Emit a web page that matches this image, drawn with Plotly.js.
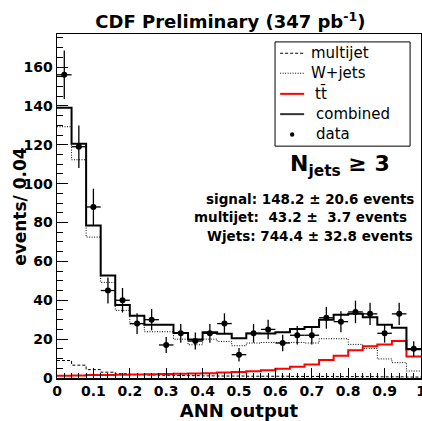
<!DOCTYPE html>
<html>
<head>
<meta charset="utf-8">
<script src="https://cdn.plot.ly/plotly-3.0.1.min.js"></script>
<style>
  html, body { margin: 0; padding: 0; background: #fff; }
  #chart { width: 422px; height: 421px; }
</style>
</head>
<body>
<div id="chart"></div>
<script>
/* ============================================
   ANN output -- CDF Preliminary, Njets >= 3
   stacked template fit vs data, step histograms
   ============================================ */

// ---- Data (25 bins of 0.04 in ANN output) ----
const binEdges = [0, 0.04, 0.08, 0.12, 0.16, 0.20, 0.24, 0.28, 0.32, 0.36, 0.40, 0.44, 0.48,
  0.52, 0.56, 0.60, 0.64, 0.68, 0.72, 0.76, 0.80, 0.84, 0.88, 0.92, 0.96, 1.00];
const binCenters = [0.02, 0.06, 0.10, 0.14, 0.18, 0.22, 0.26, 0.30, 0.34, 0.38, 0.42, 0.46, 0.50,
  0.54, 0.58, 0.62, 0.66, 0.70, 0.74, 0.78, 0.82, 0.86, 0.90, 0.94, 0.98];

const multijet = [9.0, 6.6, 4.3, 3.0, 2.2, 1.7, 1.5, 1.4, 1.3, 1.2, 1.1, 1.0, 1.0,
  0.9, 0.9, 0.9, 0.8, 0.8, 0.8, 0.7, 0.7, 0.7, 0.6, 0.6, 0.5];
const wjets = [129.3, 112.3, 72.5, 49.2, 34.8, 27.8, 23.8, 23.8, 20.0, 17.1, 20.0, 18.8, 16.6,
  18.0, 18.3, 18.3, 18.3, 18.0, 20.2, 20.2, 17.3, 15.2, 9.8, 7.9, 3.6];
const ttbar = [1.2, 1.3, 1.5, 1.6, 1.7, 1.8, 1.9, 2.0, 2.2, 2.3, 2.5, 2.8, 3.1,
  3.5, 4.0, 4.8, 5.8, 7.0, 9.2, 11.5, 14.3, 16.4, 17.3, 19.0, 11.1];
const combined = [139.0, 120.5, 78.5, 52.8, 37.5, 32.0, 27.4, 27.4, 23.1, 19.8, 23.5, 22.8, 20.4,
  22.9, 22.9, 23.5, 25.2, 26.2, 30.0, 32.6, 33.1, 31.2, 27.4, 25.8, 14.8];
const dataCounts = [156, 119, 88, 45, 40, 28, 30, 17, 23, 19, 23, 28, 12,
  23, 25, 18, 22, 22, 31, 29, 34, 33, 23, 33, 15];
const dataErrors = [12.5, 10.9, 9.4, 6.7, 6.3, 5.3, 5.5, 4.1, 4.8, 4.4, 4.8, 5.3, 3.5,
  4.8, 5.0, 4.2, 4.7, 4.7, 5.6, 5.4, 5.8, 5.7, 4.8, 5.7, 3.9];

const legendLabels = ['multijet', 'W+jets', 't\u0074\u0304', 'combined', 'data'];
const fitLines = [
  'signal: 148.2 \u00b1 20.6 events',
  'multijet:  43.2 \u00b1  3.7 events',
  'Wjets: 744.4 \u00b1 32.8 events',
];

// ---- Style ----
const FONT = 'DejaVu Sans, Liberation Sans, Arial, sans-serif';
const INK = '#000000';
const RED = '#ff0000';

const lineStyles = [
  { color: INK, width: 1, dash: '3px,2px' },   // multijet
  { color: INK, width: 1, dash: '1px,1.5px' }, // W+jets
  { color: RED, width: 2 },                    // ttbar
  { color: INK, width: 2 },                    // combined
];

// step histogram: last bin value repeated so 'hv' closes the final bin
const stepY = (vals) => vals.concat([vals[vals.length - 1]]);

const histos = [multijet, wjets, ttbar, combined];
const traces = histos.map((vals, i) => ({
  name: legendLabels[i], x: binEdges, y: stepY(vals), type: 'scatter', mode: 'lines',
  line: Object.assign({ shape: 'hv' }, lineStyles[i]),
}));
traces.push({
  name: legendLabels[4], x: binCenters, y: dataCounts, type: 'scatter', mode: 'markers',
  marker: { symbol: 'circle', size: 6, color: INK },
  error_y: { type: 'data', array: dataErrors, color: INK, thickness: 1.3, width: 0 },
  error_x: { type: 'constant', value: 0.02, color: INK, thickness: 1.3, width: 0 },
});

// ---- Legend box (ROOT TLegend look), drawn in paper coordinates ----
const legBox = { x0: 0.599, x1: 0.970, y0: 0.674, y1: 0.977 };
const legRows = [0.944, 0.886, 0.826, 0.767, 0.708];
const legTextX = [0.692, 0.692, 0.703, 0.706, 0.706];
const legSample = { x0: 0.613, x1: 0.679 };

const shapes = [{
  type: 'rect', xref: 'paper', yref: 'paper',
  x0: legBox.x0, x1: legBox.x1, y0: legBox.y0, y1: legBox.y1,
  line: { color: INK, width: 1 }, fillcolor: '#ffffff', layer: 'above',
}];
lineStyles.forEach((ls, i) => {
  shapes.push({
    type: 'line', xref: 'paper', yref: 'paper',
    x0: legSample.x0, x1: legSample.x1, y0: legRows[i], y1: legRows[i],
    line: Object.assign({}, ls, i === 3 ? { color: '#333333' } : {}), layer: 'above',
  });
});
const dotX = (legSample.x0 + legSample.x1) / 2;
shapes.push({
  type: 'circle', xref: 'paper', yref: 'paper',
  x0: dotX - 0.006, x1: dotX + 0.006, y0: legRows[4] - 0.0065, y1: legRows[4] + 0.0065,
  line: { color: INK, width: 0 }, fillcolor: INK, layer: 'above',
});

const annotations = legendLabels.map((lab, i) => ({
  text: lab, xref: 'paper', yref: 'paper', x: legTextX[i], y: legRows[i],
  xanchor: 'left', yanchor: 'middle', showarrow: false,
  font: { family: FONT, size: 15, color: INK },
}));

annotations.push(
  {
    // y-axis title, placed by hand to sit close to the tick labels
    text: 'events/ 0.04', textangle: -90, xref: 'paper', yref: 'paper', x: -0.102, y: 0.5,
    xanchor: 'center', yanchor: 'middle', showarrow: false,
    font: { family: FONT, size: 17, color: INK, weight: 'bold' },
  },
  {
    text: 'N<sub>jets</sub> \u2265 3', xref: 'paper', yref: 'paper', x: 0.777, y: 0.619,
    xanchor: 'center', yanchor: 'middle', showarrow: false,
    font: { family: FONT, size: 22, color: INK, weight: 'bold' },
  },
  {
    text: fitLines[0], xref: 'paper', yref: 'paper', x: 0.695, y: 0.520,
    xanchor: 'center', yanchor: 'middle', showarrow: false,
    font: { family: FONT, size: 13.5, color: INK, weight: 'bold' },
  },
  {
    text: fitLines[1], xref: 'paper', yref: 'paper', x: 0.668, y: 0.468,
    xanchor: 'center', yanchor: 'middle', showarrow: false,
    font: { family: FONT, size: 13.5, color: INK, weight: 'bold' },
  },
  {
    text: fitLines[2], xref: 'paper', yref: 'paper', x: 0.695, y: 0.413,
    xanchor: 'center', yanchor: 'middle', showarrow: false,
    font: { family: FONT, size: 13.5, color: INK, weight: 'bold' },
  }
);

const axisBase = {
  showline: true, linecolor: INK, linewidth: 1.5, mirror: true,
  showgrid: false, zeroline: false,
  ticks: 'inside', tickcolor: INK, tickwidth: 1,
  ticklabeloverflow: 'allow',
  tickfont: { family: FONT, size: 14, color: INK, weight: 'bold' },
};

const layout = {
  width: 422, height: 421,
  margin: { l: 57, r: 1, t: 34, b: 43 },
  paper_bgcolor: '#ffffff', plot_bgcolor: '#ffffff',
  font: { family: FONT, color: INK },
  title: {
    text: 'CDF Preliminary (347 pb<sup>-1</sup>)',
    font: { family: FONT, size: 18, color: INK, weight: 'bold' },
    xref: 'container', x: 0.546, xanchor: 'center',
    yref: 'container', y: 0.948, yanchor: 'middle',
  },
  xaxis: Object.assign({}, axisBase, {
    range: [0, 1], tick0: 0, dtick: 0.1, ticklen: 10,
    minor: { ticks: 'inside', dtick: 0.02, ticklen: 5, tickcolor: INK, tickwidth: 1 },
    title: { text: 'ANN output', standoff: 8, font: { family: FONT, size: 18, color: INK, weight: 'bold' } },
  }),
  yaxis: Object.assign({}, axisBase, {
    range: [0, 177], tick0: 0, dtick: 20, ticklen: 11,
    minor: { ticks: 'inside', dtick: 5, ticklen: 6, tickcolor: INK, tickwidth: 1 },
  }),
  showlegend: false,
  shapes,
  annotations,
};

Plotly.newPlot('chart', traces, layout, { displayModeBar: false, staticPlot: true });
</script>
</body>
</html>
